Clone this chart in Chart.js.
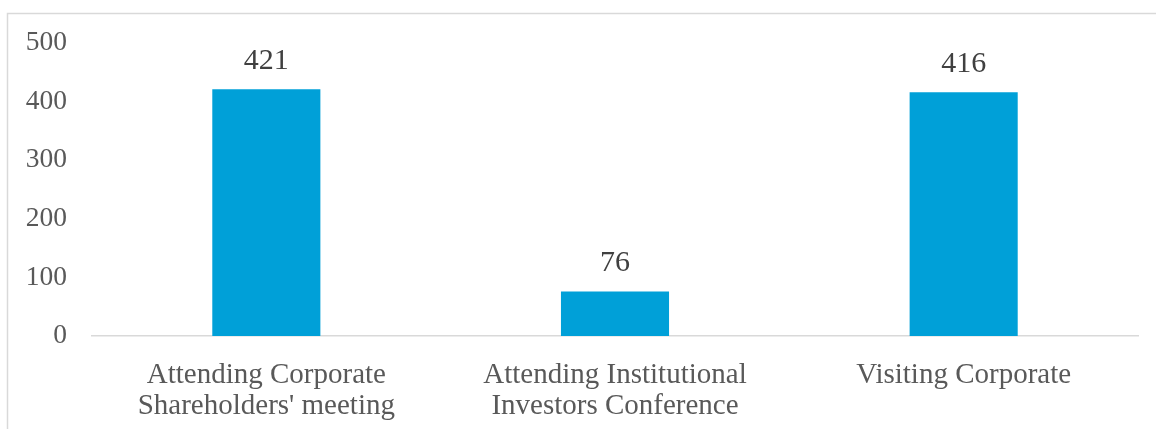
<!DOCTYPE html>
<html>
<head>
<meta charset="utf-8">
<script src="https://cdn.jsdelivr.net/npm/chart.js@4"></script>
<style>
  html, body { margin: 0; padding: 0; background: #fff; }
  #wrap { position: absolute; left: 0; top: 0; width: 1156px; height: 429px; }
</style>
</head>
<body>
<div id="wrap"><canvas id="chart1"></canvas></div>
<script>
var categories = [
  ['Attending Corporate', "Shareholders' meeting"],
  ['Attending Institutional', 'Investors Conference'],
  ['Visiting Corporate']
];
var values = [421, 76, 416];
var yTicks = [0, 100, 200, 300, 400, 500];

var serif = "'Liberation Serif', 'Times New Roman', serif";

// frame lines round the chart and value labels over the bars
var extras = {
  id: 'extras',
  beforeDraw: function (chart) {
    var c = chart.ctx;
    c.save();
    c.strokeStyle = '#d9d9d9';
    c.lineWidth = 1.5;
    c.beginPath();
    c.moveTo(7.5, 429);
    c.lineTo(7.5, 13.5);
    c.lineTo(1156, 13.5);
    c.stroke();
    c.restore();
  },
  afterDatasetsDraw: function (chart) {
    var c = chart.ctx;
    var meta = chart.getDatasetMeta(0);
    c.save();
    c.fillStyle = '#404040';
    c.font = '30px ' + serif;
    c.textAlign = 'center';
    c.textBaseline = 'bottom';
    meta.data.forEach(function (bar, i) {
      c.fillText(values[i], bar.x, bar.y - 13);
    });
    c.restore();
  }
};

var ctx = document.getElementById('chart1').getContext('2d');
var myChart = new Chart(ctx, {
  type: 'bar',
  data: {
    labels: categories,
    datasets: [{
      data: values,
      backgroundColor: '#00A0D8',
      borderWidth: 0,
      barPercentage: 0.31,
      categoryPercentage: 1
    }]
  },
  options: {
    responsive: true,
    maintainAspectRatio: false,
    animation: false,
    layout: { padding: { left: 0, right: 18, top: 43, bottom: 0 } },
    plugins: {
      legend: { display: false },
      tooltip: { enabled: false }
    },
    scales: {
      x: {
        grid: { display: false },
        border: { display: true, color: '#d9d9d9', width: 1.5 },
        ticks: {
          color: '#595959',
          font: { family: serif, size: 29, lineHeight: 1.1 },
          padding: 15,
          maxRotation: 0,
          autoSkip: false
        },
        afterFit: function (scale) { scale.height = 93; }
      },
      y: {
        min: 0,
        max: 500,
        grid: { display: false },
        border: { display: false },
        afterBuildTicks: function (scale) {
          scale.ticks = yTicks.map(function (v) { return { value: v }; });
        },
        ticks: {
          color: '#595959',
          font: { family: serif, size: 27.5 },
          padding: 17
        },
        afterFit: function (scale) { scale.width = 92; }
      }
    }
  },
  plugins: [extras]
});
</script>
</body>
</html>
